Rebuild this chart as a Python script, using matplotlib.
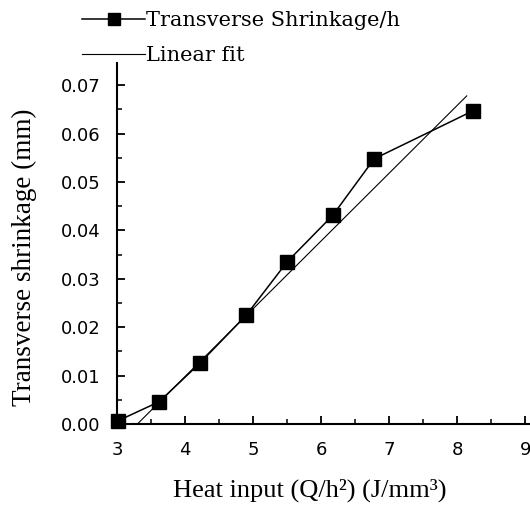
import matplotlib
matplotlib.use("Agg")
import matplotlib.pyplot as plt
from matplotlib.ticker import MultipleLocator

heat_input = [3.02, 3.62, 4.22, 4.90, 5.50, 6.17, 6.78, 8.23]
shrinkage = [0.0007, 0.0046, 0.0126, 0.0225, 0.0335, 0.0431, 0.0548, 0.0647]
fit_x = [3.30, 8.14]
fit_y = [0.0, 0.0678]
x_ticks = [3, 4, 5, 6, 7, 8, 9]
y_ticks = [0.00, 0.01, 0.02, 0.03, 0.04, 0.05, 0.06, 0.07]

serif = ["Liberation Serif", "DejaVu Serif"]
wide_serif = ["DejaVu Serif"]
sans = ["DejaVu Sans"]

fig = plt.figure(figsize=(5.30, 5.11), dpi=100)
ax = fig.add_axes([117 / 530, 1 - 424 / 511, 1 - 117 / 530, (424 - 63) / 511])

ax.plot(heat_input, shrinkage, color="black", lw=1.1, marker="s", ms=9.5,
        label="Transverse Shrinkage/h", clip_on=False, zorder=3)
ax.plot(fit_x, fit_y, color="black", lw=0.8, label="Linear fit", zorder=2)

ax.set_xlim(3, 9.07)
ax.set_ylim(0, 0.0746)
ax.set_xticks(x_ticks)
ax.set_yticks(y_ticks)
ax.set_yticklabels([f"{v:.2f}" for v in y_ticks])
ax.xaxis.set_minor_locator(MultipleLocator(0.5))
ax.yaxis.set_minor_locator(MultipleLocator(0.005))

for s in ["top", "right"]:
    ax.spines[s].set_visible(False)
for s in ["left", "bottom"]:
    ax.spines[s].set_linewidth(1.5)

ax.tick_params(which="major", direction="in", length=6, width=1.3)
ax.tick_params(which="minor", direction="in", length=3.5, width=1.1)
ax.tick_params(axis="x", which="major", pad=12)
ax.tick_params(axis="y", which="major", pad=12)
for lab in ax.get_xticklabels() + ax.get_yticklabels():
    lab.set_fontfamily(sans)
    lab.set_fontsize(13)

ax.set_xlabel("Heat input (Q/h²) (J/mm³)", fontsize=19, family=serif)
ax.set_ylabel("Transverse shrinkage (mm)", fontsize=19.5, family=serif)
ax.xaxis.set_label_coords(0.467, -0.152)
ax.yaxis.set_label_coords(-0.193, 0.461)

leg = fig.legend(loc="upper left", bbox_to_anchor=(72 / 530, 1 - 1 / 511),
                 frameon=False, prop={"family": wide_serif, "size": 15},
                 handlelength=3.0, handletextpad=0.05, labelspacing=0.75,
                 borderpad=0, markerscale=0.9)

fig.savefig("out.png", dpi=100)
